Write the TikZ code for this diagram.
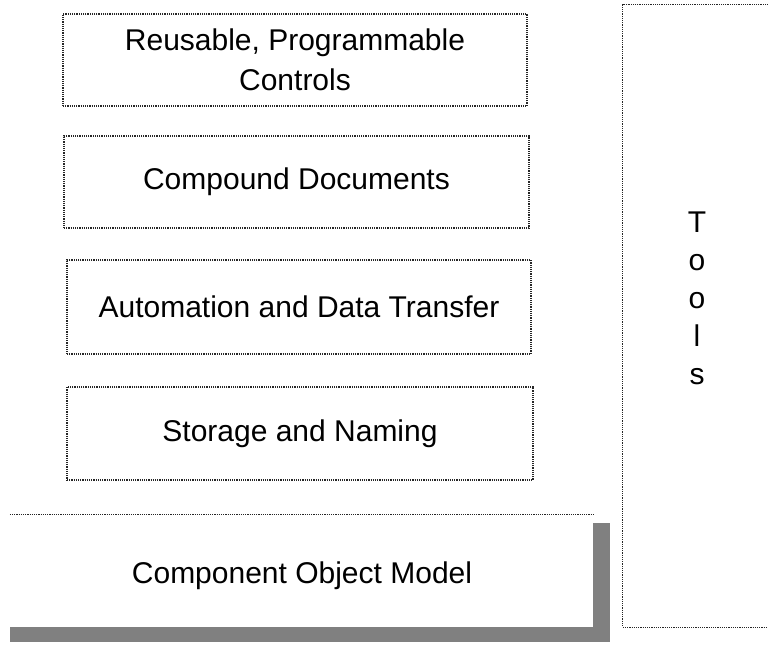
\documentclass[tikz,border=0pt]{standalone}
\usepackage{fontspec}
\setmainfont{Liberation Sans}
\begin{document}
\begin{tikzpicture}[x=1pt,y=-1pt,
  layerbox/.style={draw=black!85, densely dotted, line width=1.2pt, rectangle, inner sep=0pt,
    align=center, font=\fontsize{30}{40}\selectfont},
  plainlbl/.style={inner sep=0pt, align=center, font=\fontsize{30}{38}\selectfont},
  edge/.style={draw=black!85, densely dotted, line width=1.2pt},
  shade/.style={fill=black!50, draw=none}]
\useasboundingbox (0,0) rectangle (768,649);
\fill[white] (0,0) rectangle (768,649);

\node[layerbox, minimum width=464pt, minimum height=92pt] (reuse) at (295,60)
  {Reusable, Programmable\\Controls};
\node[layerbox, minimum width=465pt, minimum height=92pt] (compound) at (296.5,182)
  {Compound Documents};
\node[layerbox, minimum width=464pt, minimum height=94pt] (auto) at (299,307)
  {Automation and Data Transfer};
\node[layerbox, minimum width=466pt, minimum height=93pt] (storage) at (300,433.5)
  {Storage and Naming};

% Component Object Model box
\node[inner sep=0pt, minimum width=583pt, minimum height=112pt] (com) at (301.5,571) {};
\node[plainlbl] (comlbl) at (302,576) {Component Object Model};
\draw[edge] (com.north west) -- (com.north east);
\fill[shade] (593,523) rectangle (610,642);
\fill[shade] (10,627) rectangle (610,642);

% Tools box
\node[inner sep=0pt, minimum width=145pt, minimum height=622pt] (toolsbox) at (695.5,316) {};
\draw[edge] (toolsbox.north east) -- (toolsbox.north west) -- (toolsbox.south west) -- (toolsbox.south east);
\node[plainlbl] (tools) at (697,298) {T\\o\\o\\l\\s};
\end{tikzpicture}
\end{document}
